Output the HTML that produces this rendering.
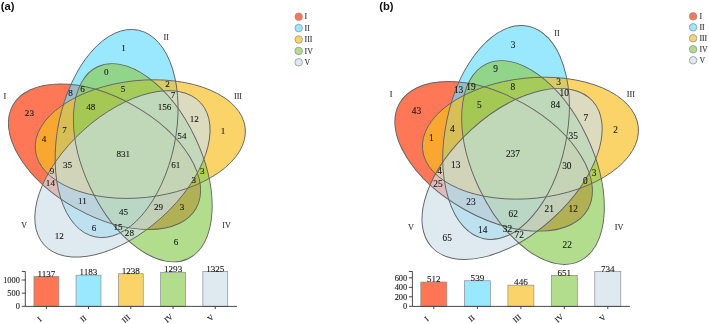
<!DOCTYPE html>
<html><head><meta charset="utf-8"><title>Venn</title><style>
html,body{margin:0;padding:0;background:#fff;}
body{width:709px;height:324px;overflow:hidden;position:relative;font-family:"Liberation Serif",serif;}
svg{position:absolute;left:0;top:0;display:block;}
text{font-family:"Liberation Serif",serif;}
text.n{font-size:9.1px;fill:#161616;stroke:#161616;stroke-width:0.1px;text-anchor:middle;}
text.s{font-size:8.0px;fill:#333;stroke:#333;stroke-width:0.12px;text-anchor:middle;}
text.lg{font-size:7.8px;fill:#333;stroke:#333;stroke-width:0.12px;}
text.bv{font-size:9.1px;fill:#161616;stroke:#161616;stroke-width:0.1px;text-anchor:middle;}
text.tk{font-size:8.4px;fill:#1a1a1a;stroke:#1a1a1a;stroke-width:0.12px;text-anchor:end;}
text.xl{font-size:7.9px;fill:#222;stroke:#222;stroke-width:0.15px;text-anchor:middle;}
text.ttl{font-family:"Liberation Sans",sans-serif;font-weight:bold;font-size:11.2px;fill:#111;}
</style></head><body>
<svg width="709" height="324" viewBox="0 0 709 324" style="will-change:transform;transform:translateZ(0)">
<text x="0.8" y="10.2" class="ttl">(a)</text>
<text x="379.2" y="10.2" class="ttl">(b)</text>
<g transform="translate(0 0)">
<ellipse cx="104.50" cy="156.76" rx="105.1" ry="59.0" transform="rotate(29.30 104.50 156.76)" fill="#FE3606" fill-opacity="0.68"/>
<ellipse cx="116.60" cy="133.50" rx="105.6" ry="58.8" transform="rotate(101.80 116.60 133.50)" fill="#69DDFE" fill-opacity="0.68"/>
<ellipse cx="140.30" cy="139.10" rx="105.5" ry="58.6" transform="rotate(173.98 140.30 139.10)" fill="#F8C021" fill-opacity="0.68"/>
<ellipse cx="142.80" cy="162.75" rx="106.1" ry="58.1" transform="rotate(64.76 142.80 162.75)" fill="#8ECD56" fill-opacity="0.68"/>
<ellipse cx="122.45" cy="173.90" rx="105.7" ry="58.6" transform="rotate(137.80 122.45 173.90)" fill="#CEDFE9" fill-opacity="0.68"/>
<ellipse cx="104.50" cy="156.76" rx="105.1" ry="59.0" transform="rotate(29.30 104.50 156.76)" fill="none" stroke="#646464" stroke-width="0.92"/>
<ellipse cx="116.60" cy="133.50" rx="105.6" ry="58.8" transform="rotate(101.80 116.60 133.50)" fill="none" stroke="#646464" stroke-width="0.92"/>
<ellipse cx="140.30" cy="139.10" rx="105.5" ry="58.6" transform="rotate(173.98 140.30 139.10)" fill="none" stroke="#646464" stroke-width="0.92"/>
<ellipse cx="142.80" cy="162.75" rx="106.1" ry="58.1" transform="rotate(64.76 142.80 162.75)" fill="none" stroke="#646464" stroke-width="0.92"/>
<ellipse cx="122.45" cy="173.90" rx="105.7" ry="58.6" transform="rotate(137.80 122.45 173.90)" fill="none" stroke="#646464" stroke-width="0.92"/>
<text x="29.4" y="115.8" class="n">23</text>
<text x="123.5" y="51.2" class="n">1</text>
<text x="106.3" y="74.7" class="n">0</text>
<text x="223.1" y="133.6" class="n">1</text>
<text x="70.4" y="95.6" class="n">8</text>
<text x="82.4" y="91.9" class="n">6</text>
<text x="123.1" y="91.9" class="n">5</text>
<text x="167.6" y="86.9" class="n">2</text>
<text x="173.1" y="98.0" class="n">7</text>
<text x="90.7" y="109.9" class="n">48</text>
<text x="164.6" y="110.0" class="n">156</text>
<text x="194.3" y="121.7" class="n">12</text>
<text x="64.4" y="133.0" class="n">7</text>
<text x="43.9" y="141.9" class="n">4</text>
<text x="181.9" y="139.1" class="n">54</text>
<text x="123.3" y="157.1" class="n">831</text>
<text x="67.6" y="168.2" class="n">35</text>
<text x="175.7" y="168.4" class="n">61</text>
<text x="202.2" y="174.3" class="n">3</text>
<text x="193.7" y="183.0" class="n">3</text>
<text x="51.9" y="173.7" class="n">9</text>
<text x="50.4" y="186.3" class="n">14</text>
<text x="82.4" y="204.3" class="n">11</text>
<text x="158.5" y="209.9" class="n">29</text>
<text x="182.0" y="209.9" class="n">3</text>
<text x="123.5" y="215.4" class="n">45</text>
<text x="93.9" y="231.0" class="n">6</text>
<text x="118.0" y="230.3" class="n">15</text>
<text x="129.4" y="236.1" class="n">28</text>
<text x="59.3" y="238.9" class="n">12</text>
<text x="176.1" y="244.9" class="n">6</text>
<text x="4.9" y="98.7" class="s">I</text>
<text x="166.2" y="39.6" class="s">II</text>
<text x="238.0" y="98.7" class="s">III</text>
<text x="226.5" y="227.7" class="s">IV</text>
<text x="24.2" y="227.7" class="s">V</text>
</g>
<g transform="translate(386.2 -4.8) scale(1.028)">
<ellipse cx="104.50" cy="156.76" rx="105.1" ry="59.0" transform="rotate(29.30 104.50 156.76)" fill="#FE3606" fill-opacity="0.68"/>
<ellipse cx="116.60" cy="133.50" rx="105.6" ry="58.8" transform="rotate(101.80 116.60 133.50)" fill="#69DDFE" fill-opacity="0.68"/>
<ellipse cx="140.30" cy="139.10" rx="105.5" ry="58.6" transform="rotate(173.98 140.30 139.10)" fill="#F8C021" fill-opacity="0.68"/>
<ellipse cx="142.80" cy="162.75" rx="106.1" ry="58.1" transform="rotate(64.76 142.80 162.75)" fill="#8ECD56" fill-opacity="0.68"/>
<ellipse cx="122.45" cy="173.90" rx="105.7" ry="58.6" transform="rotate(137.80 122.45 173.90)" fill="#CEDFE9" fill-opacity="0.68"/>
<ellipse cx="104.50" cy="156.76" rx="105.1" ry="59.0" transform="rotate(29.30 104.50 156.76)" fill="none" stroke="#646464" stroke-width="0.92"/>
<ellipse cx="116.60" cy="133.50" rx="105.6" ry="58.8" transform="rotate(101.80 116.60 133.50)" fill="none" stroke="#646464" stroke-width="0.92"/>
<ellipse cx="140.30" cy="139.10" rx="105.5" ry="58.6" transform="rotate(173.98 140.30 139.10)" fill="none" stroke="#646464" stroke-width="0.92"/>
<ellipse cx="142.80" cy="162.75" rx="106.1" ry="58.1" transform="rotate(64.76 142.80 162.75)" fill="none" stroke="#646464" stroke-width="0.92"/>
<ellipse cx="122.45" cy="173.90" rx="105.7" ry="58.6" transform="rotate(137.80 122.45 173.90)" fill="none" stroke="#646464" stroke-width="0.92"/>
<text x="29.4" y="115.8" class="n">43</text>
<text x="123.5" y="51.2" class="n">3</text>
<text x="106.3" y="74.7" class="n">9</text>
<text x="223.1" y="133.6" class="n">2</text>
<text x="70.4" y="95.6" class="n">13</text>
<text x="82.4" y="91.9" class="n">19</text>
<text x="123.1" y="91.9" class="n">8</text>
<text x="167.6" y="86.9" class="n">3</text>
<text x="173.1" y="98.0" class="n">10</text>
<text x="90.7" y="109.9" class="n">5</text>
<text x="164.6" y="110.0" class="n">84</text>
<text x="194.3" y="122.3" class="n">7</text>
<text x="64.4" y="133.0" class="n">4</text>
<text x="43.9" y="141.9" class="n">1</text>
<text x="181.9" y="139.8" class="n">35</text>
<text x="123.3" y="157.1" class="n">237</text>
<text x="67.6" y="168.2" class="n">13</text>
<text x="175.7" y="169.4" class="n">30</text>
<text x="202.2" y="175.5" class="n">3</text>
<text x="193.7" y="184.0" class="n">0</text>
<text x="51.9" y="173.7" class="n">4</text>
<text x="50.4" y="186.3" class="n">25</text>
<text x="82.4" y="204.3" class="n">23</text>
<text x="158.5" y="210.8" class="n">21</text>
<text x="182.0" y="210.8" class="n">12</text>
<text x="123.5" y="215.8" class="n">62</text>
<text x="93.9" y="231.0" class="n">14</text>
<text x="118.0" y="230.7" class="n">32</text>
<text x="129.4" y="236.5" class="n">72</text>
<text x="59.3" y="238.9" class="n">65</text>
<text x="176.1" y="245.6" class="n">22</text>
<text x="4.9" y="98.7" class="s">I</text>
<text x="166.2" y="39.6" class="s">II</text>
<text x="238.0" y="98.7" class="s">III</text>
<text x="226.5" y="228.6" class="s">IV</text>
<text x="24.2" y="228.5" class="s">V</text>
</g>
<circle cx="298.7" cy="16.70" r="3.75" fill="#FE7656" stroke="#868a90" stroke-width="0.7"/>
<text x="304.6" y="19.30" class="lg">I</text>
<circle cx="298.7" cy="28.10" r="3.75" fill="#99E8FE" stroke="#868a90" stroke-width="0.7"/>
<text x="304.6" y="30.70" class="lg">II</text>
<circle cx="298.7" cy="39.50" r="3.75" fill="#FAD468" stroke="#868a90" stroke-width="0.7"/>
<text x="304.6" y="42.10" class="lg">III</text>
<circle cx="298.7" cy="50.90" r="3.75" fill="#B2DD8C" stroke="#868a90" stroke-width="0.7"/>
<text x="304.6" y="53.50" class="lg">IV</text>
<circle cx="298.7" cy="62.30" r="3.75" fill="#DEE9F0" stroke="#868a90" stroke-width="0.7"/>
<text x="304.6" y="64.90" class="lg">V</text>
<circle cx="693.1" cy="16.30" r="3.75" fill="#FE7656" stroke="#868a90" stroke-width="0.7"/>
<text x="699.4" y="18.90" class="lg">I</text>
<circle cx="693.1" cy="27.30" r="3.75" fill="#99E8FE" stroke="#868a90" stroke-width="0.7"/>
<text x="699.4" y="29.90" class="lg">II</text>
<circle cx="693.1" cy="38.30" r="3.75" fill="#FAD468" stroke="#868a90" stroke-width="0.7"/>
<text x="699.4" y="40.90" class="lg">III</text>
<circle cx="693.1" cy="49.30" r="3.75" fill="#B2DD8C" stroke="#868a90" stroke-width="0.7"/>
<text x="699.4" y="51.90" class="lg">IV</text>
<circle cx="693.1" cy="60.30" r="3.75" fill="#DEE9F0" stroke="#868a90" stroke-width="0.7"/>
<text x="699.4" y="62.90" class="lg">V</text>
<rect x="33.95" y="276.40" width="24.9" height="29.90" fill="#FE7656" stroke="#8a8e92" stroke-width="0.7"/>
<text x="46.40" y="276.60" class="bv">1137</text>
<rect x="76.05" y="275.19" width="24.9" height="31.11" fill="#99E8FE" stroke="#8a8e92" stroke-width="0.7"/>
<text x="88.50" y="275.39" class="bv">1183</text>
<rect x="118.35" y="273.74" width="24.9" height="32.56" fill="#FAD468" stroke="#8a8e92" stroke-width="0.7"/>
<text x="130.80" y="273.94" class="bv">1238</text>
<rect x="160.65" y="272.29" width="24.9" height="34.01" fill="#B2DD8C" stroke="#8a8e92" stroke-width="0.7"/>
<text x="173.10" y="272.49" class="bv">1293</text>
<rect x="202.85" y="271.45" width="24.9" height="34.85" fill="#DEE9F0" stroke="#8a8e92" stroke-width="0.7"/>
<text x="215.30" y="271.65" class="bv">1325</text>
<path d="M21.8 271.45H25.3V306.40000000000003H236.9" fill="none" stroke="#343434" stroke-width="0.9"/>
<path d="M21.8 306.30H25.3" stroke="#343434" stroke-width="0.9"/>
<text x="19.9" y="309.05" class="tk">0</text>
<path d="M21.8 293.15H25.3" stroke="#343434" stroke-width="0.9"/>
<text x="19.9" y="295.90" class="tk">500</text>
<path d="M21.8 280.00H25.3" stroke="#343434" stroke-width="0.9"/>
<text x="19.9" y="282.75" class="tk">1000</text>
<path d="M46.40 306.3V309.1" stroke="#343434" stroke-width="0.9"/>
<path d="M88.50 306.3V309.1" stroke="#343434" stroke-width="0.9"/>
<path d="M130.80 306.3V309.1" stroke="#343434" stroke-width="0.9"/>
<path d="M173.10 306.3V309.1" stroke="#343434" stroke-width="0.9"/>
<path d="M215.30 306.3V309.1" stroke="#343434" stroke-width="0.9"/>
<text transform="translate(39.5 319.3) rotate(-41)" x="0" y="2.5" class="xl">I</text>
<text transform="translate(83.4 318.7) rotate(-41)" x="0" y="2.5" class="xl">II</text>
<text transform="translate(126.2 318.7) rotate(-41)" x="0" y="2.5" class="xl">III</text>
<text transform="translate(168.7 318.3) rotate(-41)" x="0" y="2.5" class="xl">IV</text>
<text transform="translate(210.8 317.9) rotate(-41)" x="0" y="2.5" class="xl">V</text>
<rect x="420.80" y="282.03" width="26.0" height="24.27" fill="#FE7656" stroke="#8a8e92" stroke-width="0.7"/>
<text x="433.80" y="282.23" class="bv">512</text>
<rect x="464.40" y="280.75" width="26.0" height="25.55" fill="#99E8FE" stroke="#8a8e92" stroke-width="0.7"/>
<text x="477.40" y="280.95" class="bv">539</text>
<rect x="507.90" y="285.16" width="26.0" height="21.14" fill="#FAD468" stroke="#8a8e92" stroke-width="0.7"/>
<text x="520.90" y="285.36" class="bv">446</text>
<rect x="551.30" y="275.44" width="26.0" height="30.86" fill="#B2DD8C" stroke="#8a8e92" stroke-width="0.7"/>
<text x="564.30" y="275.64" class="bv">651</text>
<rect x="594.80" y="271.50" width="26.0" height="34.80" fill="#DEE9F0" stroke="#8a8e92" stroke-width="0.7"/>
<text x="607.80" y="271.70" class="bv">734</text>
<path d="M408.9 271.50H412.4V306.40000000000003H629.9" fill="none" stroke="#343434" stroke-width="0.9"/>
<path d="M408.9 306.30H412.4" stroke="#343434" stroke-width="0.9"/>
<text x="407.2" y="309.05" class="tk">0</text>
<path d="M408.9 296.82H412.4" stroke="#343434" stroke-width="0.9"/>
<text x="407.2" y="299.57" class="tk">200</text>
<path d="M408.9 287.34H412.4" stroke="#343434" stroke-width="0.9"/>
<text x="407.2" y="290.09" class="tk">400</text>
<path d="M408.9 277.85H412.4" stroke="#343434" stroke-width="0.9"/>
<text x="407.2" y="280.60" class="tk">600</text>
<path d="M433.80 306.3V309.1" stroke="#343434" stroke-width="0.9"/>
<path d="M477.40 306.3V309.1" stroke="#343434" stroke-width="0.9"/>
<path d="M520.90 306.3V309.1" stroke="#343434" stroke-width="0.9"/>
<path d="M564.30 306.3V309.1" stroke="#343434" stroke-width="0.9"/>
<path d="M607.80 306.3V309.1" stroke="#343434" stroke-width="0.9"/>
<text transform="translate(426.6 318.7) rotate(-41)" x="0" y="2.5" class="xl">I</text>
<text transform="translate(471.7 318.3) rotate(-41)" x="0" y="2.5" class="xl">II</text>
<text transform="translate(517.0 318.5) rotate(-41)" x="0" y="2.5" class="xl">III</text>
<text transform="translate(559.3 318.3) rotate(-41)" x="0" y="2.5" class="xl">IV</text>
<text transform="translate(602.8 317.9) rotate(-41)" x="0" y="2.5" class="xl">V</text>
</svg>
</body></html>
